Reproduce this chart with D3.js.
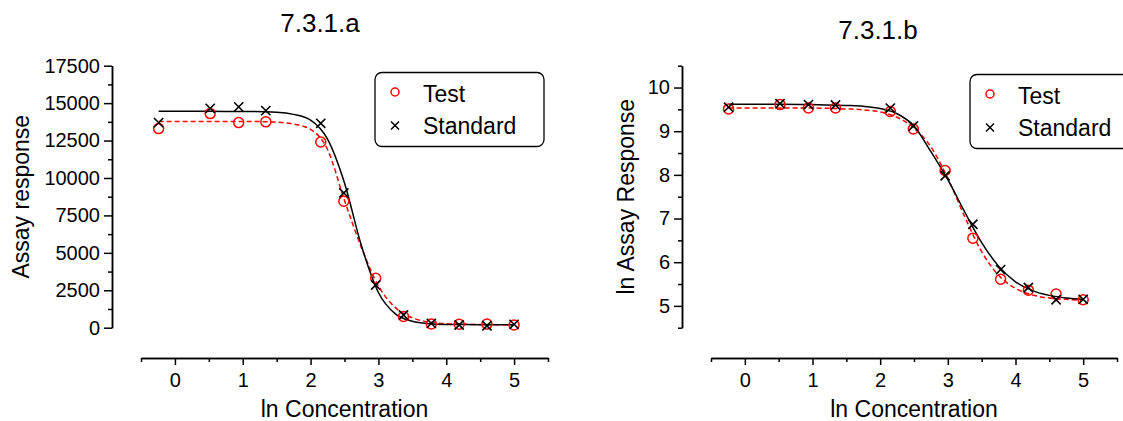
<!DOCTYPE html>
<html>
<head>
<meta charset="utf-8">
<script src="https://cdn.jsdelivr.net/npm/d3@7"></script>
<style>
  body { margin: 0; background: #fff; }
  svg { display: block; font-family: "Liberation Sans", Arial, sans-serif; }
  .axis path, .axis line { stroke: #000; stroke-width: 1.5px; }
</style>
</head>
<body>
<div id="chart"></div>
<script>
// ln concentration of the dilution series (shared by both panels)
const lnConc = [-0.24, 0.52, 0.94, 1.34, 2.15, 2.49, 2.96, 3.37, 3.78, 4.19, 4.6, 5.0];

// 7.3.1.a  raw assay response
const testA = [13300, 14300, 13700, 13750, 12400, 8450, 3300, 750, 250, 230, 240, 180];
const stdA  = [13700, 14650, 14750, 14500, 13650, 9000, 2850, 850, 290, 180, 130, 225];

// 7.3.1.b  ln assay response
const testB = [9.51, 9.61, 9.53, 9.53, 9.45, 9.05, 8.10, 6.55, 5.61, 5.36, 5.27, 5.14];
const stdB  = [9.55, 9.63, 9.61, 9.60, 9.53, 9.12, 7.98, 6.87, 5.83, 5.42, 5.14, 5.15];

// fitted curves
const fitX     = [-0.24, 0.5, 1.0, 1.5, 1.75, 2.0, 2.25, 2.5, 2.75, 3.0, 3.25, 3.5, 3.75, 4.0, 4.25, 4.5, 4.75, 5.0];
const testFitA = [13780, 13780, 13780, 13730, 13600, 13250, 11900, 8500, 5350, 2790, 1340, 660, 380, 270, 230, 210, 204, 200];
const stdFitA  = [14450, 14450, 14445, 14390, 14250, 13870, 12600, 9670, 5470, 2350, 920, 430, 270, 221, 208, 201, 200, 200];
const testFitB = [9.53, 9.53, 9.53, 9.51, 9.49, 9.44, 9.32, 9.07, 8.64, 7.92, 7.04, 6.24, 5.70, 5.40, 5.25, 5.18, 5.15, 5.13];
const stdFitB  = [9.62, 9.62, 9.61, 9.59, 9.57, 9.52, 9.40, 9.12, 8.53, 7.89, 7.15, 6.45, 5.91, 5.55, 5.35, 5.24, 5.18, 5.15];

// ticks
const xMajor = [0, 1, 2, 3, 4, 5];
const xMinor = [-0.5, 0.5, 1.5, 2.5, 3.5, 4.5, 5.5];
const yMajorA = [0, 2500, 5000, 7500, 10000, 12500, 15000, 17500];
const yMinorA = [1250, 3750, 6250, 8750, 11250, 13750, 16250];
const yMajorB = [5, 6, 7, 8, 9, 10];
const yMinorB = [4.5, 5.5, 6.5, 7.5, 8.5, 9.5, 10.5];

const W = 1123, H = 421;
const FONT = '"Liberation Sans", Arial, sans-serif';
const svg = d3.select('#chart').append('svg')
  .attr('width', W)
  .attr('height', H);

function styleAxis(g) {
  g.selectAll('text')
    .style('font-family', FONT)
    .style('font-size', '20px')
    .attr('fill', '#000');
}

function panel(p) {
  let x = d3.scaleLinear().domain([-0.5, 5.5]).range([p.x0, p.x1]);
  let y = d3.scaleLinear().domain(p.yDomain).range([327.7, 65.7]);
  let fmt = d3.format('d');

  // y axis (minor first, then major with labels)
  svg.append('g').attr('class', 'axis')
    .attr('transform', `translate(${p.yAxisX},0)`)
    .call(d3.axisLeft(y).tickValues(p.yMinor).tickSize(4).tickSizeOuter(0).tickFormat(''));
  svg.append('g').attr('class', 'axis')
    .attr('transform', `translate(${p.yAxisX},0)`)
    .call(d3.axisLeft(y).tickValues(p.yMajor).tickSize(8).tickSizeOuter(0).tickPadding(4).tickFormat(fmt))
    .call(styleAxis);

  // x axis
  svg.append('g').attr('class', 'axis')
    .attr('transform', 'translate(0,358)')
    .call(d3.axisBottom(x).tickValues(xMinor).tickSize(4).tickSizeOuter(0).tickFormat(''));
  svg.append('g').attr('class', 'axis')
    .attr('transform', 'translate(0,358)')
    .call(d3.axisBottom(x).tickValues(xMajor).tickSize(7).tickSizeOuter(0).tickPadding(8).tickFormat(fmt))
    .call(styleAxis);

  // fitted curves
  let line = d3.line().curve(d3.curveMonotoneX);
  svg.append('path')
    .attr('d', line(fitX.map((v, i) => [x(v), y(p.testFit[i])])))
    .attr('fill', 'none').attr('stroke', '#ff0000').attr('stroke-width', 1.5)
    .attr('stroke-dasharray', '5,3');
  svg.append('path')
    .attr('d', line(fitX.map((v, i) => [x(v), y(p.stdFit[i])])))
    .attr('fill', 'none').attr('stroke', '#000').attr('stroke-width', 1.5);

  // test points: open red circles
  svg.selectAll(null).data(lnConc).enter().append('circle')
    .attr('cx', d => x(d))
    .attr('cy', (d, i) => y(p.test[i]))
    .attr('r', 5)
    .attr('fill', 'none').attr('stroke', '#ff0000').attr('stroke-width', 1.5);

  // standard points: black crosses
  let s = 4.6;
  svg.selectAll(null).data(lnConc).enter().append('path')
    .attr('d', (d, i) => {
      let cx = x(d), cy = y(p.std[i]);
      return `M${cx - s},${cy - s}L${cx + s},${cy + s}M${cx - s},${cy + s}L${cx + s},${cy - s}`;
    })
    .attr('stroke', '#000').attr('stroke-width', 1.6);

  // titles
  svg.append('text')
    .attr('x', p.titleX).attr('y', p.titleY)
    .attr('text-anchor', 'middle')
    .style('font-size', '26px')
    .text(p.title);
  svg.append('text')
    .attr('x', (p.x0 + p.x1) / 2).attr('y', 417)
    .attr('text-anchor', 'middle')
    .style('font-size', '23px')
    .text('ln Concentration');
  svg.append('text')
    .attr('transform', `translate(${p.yLabelX},${(65.7 + 327.7) / 2}) rotate(-90)`)
    .attr('text-anchor', 'middle')
    .style('font-size', '23px')
    .text(p.yLabel);

  // legend
  let lg = svg.append('g').attr('transform', `translate(${p.legX},${p.legY})`);
  lg.append('rect')
    .attr('width', 169).attr('height', 74)
    .attr('rx', 7).attr('ry', 7)
    .attr('fill', '#fff').attr('stroke', '#000').attr('stroke-width', 1.3);
  lg.append('circle')
    .attr('cx', 20).attr('cy', 19.5).attr('r', 4)
    .attr('fill', 'none').attr('stroke', '#ff0000').attr('stroke-width', 1.5);
  lg.append('path')
    .attr('d', 'M16,49L24,57M16,57L24,49')
    .attr('stroke', '#000').attr('stroke-width', 1.5);
  lg.append('text').attr('x', 48).attr('y', 29.5).style('font-size', '23px').text('Test');
  lg.append('text').attr('x', 48).attr('y', 61).style('font-size', '23px').text('Standard');
}

panel({
  x0: 141, x1: 548, yAxisX: 112,
  yDomain: [0, 17500], yMajor: yMajorA, yMinor: yMinorA,
  test: testA, std: stdA, testFit: testFitA, stdFit: stdFitA,
  title: '7.3.1.a', titleX: 320, titleY: 32,
  yLabel: 'Assay response', yLabelX: 29,
  legX: 375, legY: 72.5
});

panel({
  x0: 711, x1: 1117, yAxisX: 682,
  yDomain: [4.5, 10.5], yMajor: yMajorB, yMinor: yMinorB,
  test: testB, std: stdB, testFit: testFitB, stdFit: stdFitB,
  title: '7.3.1.b', titleX: 878, titleY: 38.5,
  yLabel: 'ln Assay Response', yLabelX: 634,
  legX: 970, legY: 74.5
});
</script>
</body>
</html>
